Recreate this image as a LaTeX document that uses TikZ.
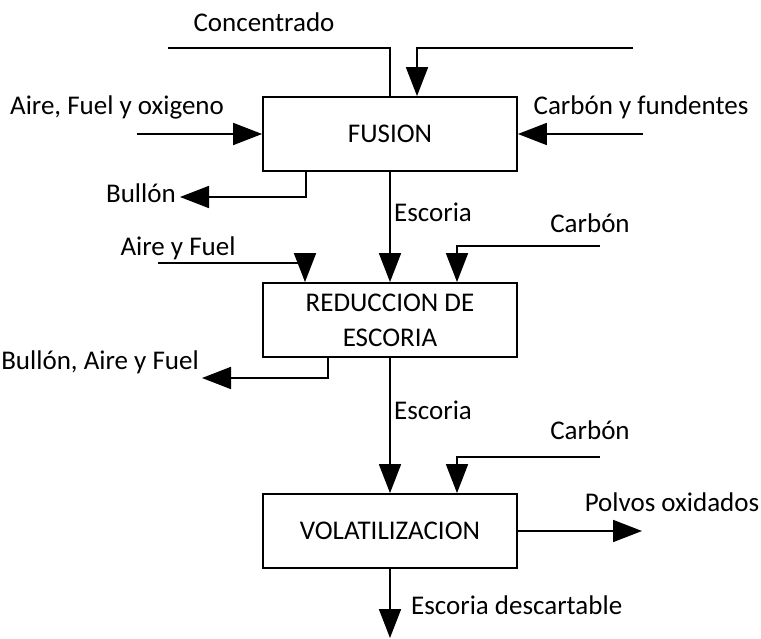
\documentclass[tikz,border=0pt]{standalone}
\usepackage{fontspec}
\setmainfont{Carlito}
\usetikzlibrary{arrows.meta}
\begin{document}
\begin{tikzpicture}[x=1pt,y=1pt,
  every node/.style={font=\fontsize{27}{35}\selectfont},
  procbox/.style={draw, line width=1.8pt, minimum width=254pt, minimum height=74pt, align=center, inner sep=2pt},
  flow/.style={line width=1.8pt},
  flowarrow/.style={line width=1.8pt, -{Triangle[length=29pt,width=22pt]}},
  lbl/.style={inner sep=0pt}]
\useasboundingbox (0,0) rectangle (761,638);

% process stages
\node[procbox] (fus) at (390,504) {FUSION};
\node[procbox] (red) at (390,318) {REDUCCION DE\\ESCORIA};
\node[procbox] (vol) at (390,107) {VOLATILIZACION};

% free ends of the streams
\coordinate (concL) at (168,590);
\coordinate (concR) at (633,590);
\coordinate (aireA) at (137,504);
\coordinate (cyfA) at (643,504);
\coordinate (bull1) at (180,441);
\coordinate (ayfA) at (158,375);
\coordinate (carb1) at (600,392);
\coordinate (bayf) at (202,260);
\coordinate (carb2) at (600,181);
\coordinate (polv) at (642,107);
\coordinate (esd) at (390,0);

% streams of the fusion stage
\draw[flow] (concL) -| (fus.north);
\draw[flowarrow] (concR) -| ([xshift=27pt]fus.north);
\draw[flowarrow] (aireA) -- (fus.west);
\draw[flowarrow] (cyfA) -- (fus.east);
\draw[flowarrow] ([xshift=-84pt]fus.south) |- (bull1);
\draw[flowarrow] (fus.south) -- (red.north);

% streams of the slag reduction stage
\draw[flowarrow] (ayfA) -| ([xshift=-85pt]red.north);
\draw[flowarrow] (carb1) -| ([xshift=67pt]red.north);
\draw[flowarrow] ([xshift=-62pt]red.south) |- (bayf);
\draw[flowarrow] (red.south) -- (vol.north);

% streams of the volatilization stage
\draw[flowarrow] (carb2) -| ([xshift=67pt]vol.north);
\draw[flowarrow] (vol.east) -- (polv);
\draw[flowarrow] (vol.south) -- (esd);

% stream labels
\node[lbl] (tconc) at (264,616) {Concentrado};
\node[lbl] (taire) at (117,531) {Aire, Fuel y oxigeno};
\node[lbl] (tcyf) at (641,531) {Carbón y fundentes};
\node[lbl, anchor=east] (tbull) at (176,445) {Bullón};
\node[lbl, anchor=west] (tesc1) at (394,426) {Escoria};
\node[lbl] (tcarb1) at (590,415) {Carbón};
\node[lbl] (tayf) at (178,390) {Aire y Fuel};
\node[lbl, anchor=east] (tbayf) at (199,276) {Bullón, Aire y Fuel};
\node[lbl, anchor=west] (tesc2) at (394,228) {Escoria};
\node[lbl] (tcarb2) at (590,208) {Carbón};
\node[lbl] (tpolv) at (672,136) {Polvos oxidados};
\node[lbl, anchor=west] (tesd) at (411,33) {Escoria descartable};
\end{tikzpicture}
\end{document}
